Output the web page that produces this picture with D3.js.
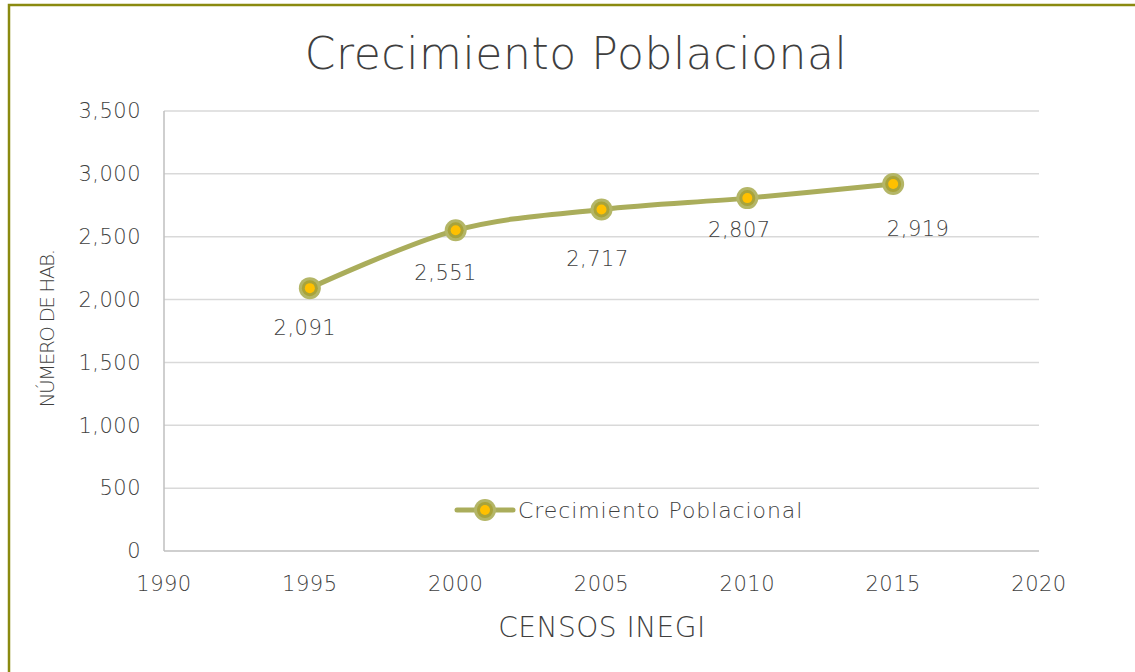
<!doctype html>
<html lang="es">
<head>
<meta charset="utf-8">
<title>Crecimiento Poblacional</title>
<script src="https://cdnjs.cloudflare.com/ajax/libs/d3/7.8.5/d3.min.js"></script>
<style>
  body { margin: 0; background: #fff; }
  svg text { font-family: "Century Gothic", "DejaVu Sans", sans-serif; font-weight: 200; fill: #3f3f3f; }
</style>
</head>
<body>
<div id="chart"></div>
<script>
// data
var years = [1995, 2000, 2005, 2010, 2015];
var population = [2091, 2551, 2717, 2807, 2919];
var seriesName = "Crecimiento Poblacional";
var yTicks = [0, 500, 1000, 1500, 2000, 2500, 3000, 3500];
var xTicks = [1990, 1995, 2000, 2005, 2010, 2015, 2020];
// hand-placed label nudges (dx, dy) like in the original sheet
var labelNudge = [[-5, 40], [-10, 42], [-4, 49], [-8, 32], [25, 45]];

var W = 1135, H = 672;
var plot = { left: 164, right: 1039, top: 111, bottom: 551 };

var svg = d3.select("#chart").append("svg")
    .attr("width", W).attr("height", H);

// outer frame
svg.append("rect")
    .attr("x", 9).attr("y", 5)
    .attr("width", W + 20).attr("height", H + 20)
    .attr("fill", "none")
    .attr("stroke", "#8a8a10")
    .attr("stroke-width", 2.5);

var x = d3.scaleLinear().domain([1990, 2020]).range([plot.left, plot.right]);
var y = d3.scaleLinear().domain([0, 3500]).range([plot.bottom, plot.top]);

// gridlines
svg.append("g")
    .selectAll("line")
    .data(yTicks.filter(function (d) { return d > 0; }))
    .enter().append("line")
    .attr("x1", plot.left).attr("x2", plot.right)
    .attr("y1", function (d) { return y(d); })
    .attr("y2", function (d) { return y(d); })
    .attr("stroke", "#d9d9d9").attr("stroke-width", 1.5);

// axis lines
svg.append("line")
    .attr("x1", plot.left).attr("x2", plot.right)
    .attr("y1", plot.bottom).attr("y2", plot.bottom)
    .attr("stroke", "#bfbfbf").attr("stroke-width", 1.5);
svg.append("line")
    .attr("x1", plot.left).attr("x2", plot.left)
    .attr("y1", plot.top).attr("y2", plot.bottom)
    .attr("stroke", "#bfbfbf").attr("stroke-width", 1.5);

var fmt = d3.format(",");

// y tick labels
svg.append("g")
    .selectAll("text")
    .data(yTicks)
    .enter().append("text")
    .attr("x", 141)
    .attr("y", function (d) { return y(d); })
    .attr("dy", "0.35em")
    .attr("text-anchor", "end")
    .style("font-size", "21px")
    .style("letter-spacing", "0.5px")
    .text(fmt);

// x tick labels
svg.append("g")
    .selectAll("text")
    .data(xTicks)
    .enter().append("text")
    .attr("x", function (d) { return x(d); })
    .attr("y", 591)
    .attr("text-anchor", "middle")
    .style("font-size", "21px")
    .style("letter-spacing", "0.5px")
    .text(function (d) { return d; });

// title
svg.append("text")
    .attr("x", 576).attr("y", 69)
    .attr("text-anchor", "middle")
    .style("font-size", "44px")
    .style("letter-spacing", "0.6px")
    .text("Crecimiento Poblacional");

// axis titles
svg.append("text")
    .attr("transform", "translate(54,329) rotate(-90)")
    .attr("text-anchor", "middle")
    .style("font-size", "20px")
    .style("letter-spacing", "-1.5px")
    .text("NÚMERO DE HAB.");

svg.append("text")
    .attr("x", 602).attr("y", 637)
    .attr("text-anchor", "middle")
    .style("font-size", "28px")
    .style("letter-spacing", "0.5px")
    .text("CENSOS INEGI");

// series
var pts = years.map(function (yr, i) { return [yr, population[i]]; });

var line = d3.line()
    .x(function (d) { return x(d[0]); })
    .y(function (d) { return y(d[1]); })
    .curve(d3.curveCardinal.tension(0));

svg.append("path")
    .datum(pts)
    .attr("d", line)
    .attr("fill", "none")
    .attr("stroke", "#aaad5b")
    .attr("stroke-width", 5)
    .attr("stroke-linecap", "round");

function marker(sel) {
    sel.append("circle").attr("r", 11).attr("fill", "#b4b667");
    sel.append("circle").attr("r", 8).attr("fill", "#a8a33a");
    sel.append("circle").attr("r", 5).attr("fill", "#ffc000");
}

svg.append("g")
    .selectAll("g")
    .data(pts)
    .enter().append("g")
    .attr("transform", function (d) { return "translate(" + x(d[0]) + "," + y(d[1]) + ")"; })
    .call(marker);

// data labels
svg.append("g")
    .selectAll("text")
    .data(pts)
    .enter().append("text")
    .attr("x", function (d, i) { return x(d[0]) + labelNudge[i][0]; })
    .attr("y", function (d, i) { return y(d[1]) + labelNudge[i][1]; })
    .attr("dy", "0.35em")
    .attr("text-anchor", "middle")
    .style("font-size", "21px")
    .style("letter-spacing", "0.5px")
    .text(function (d) { return fmt(d[1]); });

// legend
var lg = svg.append("g").attr("transform", "translate(485,510)");
lg.append("line")
    .attr("x1", -28).attr("x2", 28)
    .attr("stroke", "#aaad5b").attr("stroke-width", 5)
    .attr("stroke-linecap", "round");
lg.append("g").call(marker);
lg.append("text")
    .attr("x", 33).attr("dy", "0.35em")
    .style("font-size", "22px")
    .style("letter-spacing", "0.9px")
    .text(seriesName);
</script>
</body>
</html>
